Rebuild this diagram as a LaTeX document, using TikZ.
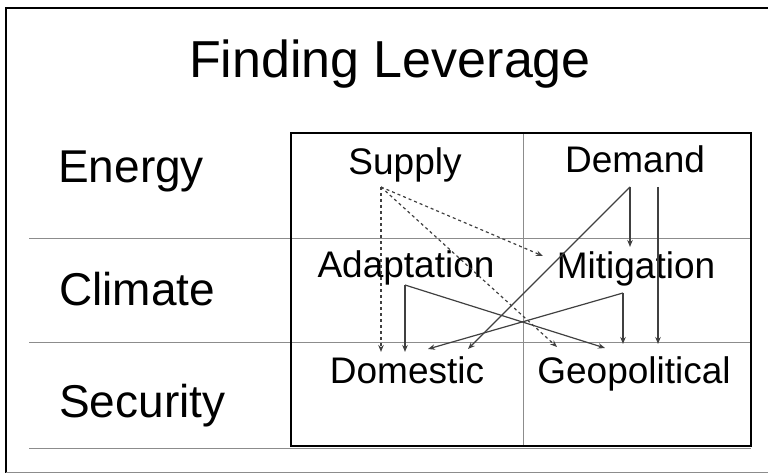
\documentclass[tikz,border=0pt]{standalone}
\usepackage{fontspec}
\setmainfont{Liberation Sans}
\usetikzlibrary{arrows.meta}
\begin{document}
\begin{tikzpicture}[x=1pt,y=-1pt,
  title/.style={font=\fontsize{52}{60}\selectfont, inner sep=0pt, anchor=base},
  rowlabel/.style={font=\fontsize{46}{54}\selectfont, inner sep=0pt, anchor=base west},
  cell/.style={font=\fontsize{37}{44}\selectfont, inner sep=0pt, anchor=base},
  grid/.style={draw=black!45, line width=1pt},
  link/.style={draw=black!75, line width=1.2pt, -{Stealth[length=7pt,width=5.5pt]}},
  dlink/.style={link, dash pattern=on 3pt off 3pt}
]
\useasboundingbox (0,0) rectangle (768,473);
% outer frame
\draw[black, line width=2pt] (770,8) -- (6,8) -- (6,473);
\draw[black!45, line width=1pt] (6,472) -- (770,472);
% grid lines
\draw[grid] (29,238) -- (751,238);
\draw[grid] (29,342) -- (751,342);
\draw[grid] (29,448) -- (751,448);
\draw[grid] (523,133) -- (523,446);
% inner box
\draw[black, line width=2.5pt] (291,133) rectangle (751,446);
% texts
\node[title] (t) at (390,78) {Finding Leverage};
\node[rowlabel] (energy) at (58,183) {Energy};
\node[rowlabel] (climate) at (59,305) {Climate};
\node[rowlabel] (security) at (59,417) {Security};
\node[cell] (supply) at (405,175) {Supply};
\node[cell] (demand) at (635,173) {Demand};
\node[cell] (adapt) at (406,277) {Adaptation};
\node[cell] (mitig) at (636,278) {Mitigation};
\node[cell] (domestic) at (407,383) {Domestic};
\node[cell] (geo) at (634,383) {Geopolitical};
% ports
\coordinate (supOut) at (381,187);
\coordinate (demOut) at (630,187);
\coordinate (demOutB) at (658,187);
\coordinate (adaOut) at (405,285);
\coordinate (mitOut) at (623,293);
\coordinate (domA) at (381,352);
\coordinate (domB) at (405,352);
\coordinate (domC) at (428,349);
\coordinate (domD) at (468,349);
\coordinate (mitL) at (543,256);
\coordinate (mitT) at (630,247);
\coordinate (geoA) at (557,347);
\coordinate (geoB) at (605,348);
\coordinate (geoC) at (623,344);
\coordinate (geoD) at (658,344);
% dashed links from supply
\draw[dlink] (supOut) -- (domA);
\draw[dlink] (supOut) -- (mitL);
\draw[dlink] (supOut) -- (geoA);
% demand links
\draw[link] (demOut) -- (mitT);
\draw[link] (demOut) -- (domD);
\draw[link] (demOutB) -- (geoD);
% adaptation links
\draw[link] (adaOut) -- (domB);
\draw[link] (adaOut) -- (geoB);
% mitigation links
\draw[link] (mitOut) -- (geoC);
\draw[link] (mitOut) -- (domC);
\end{tikzpicture}
\end{document}
